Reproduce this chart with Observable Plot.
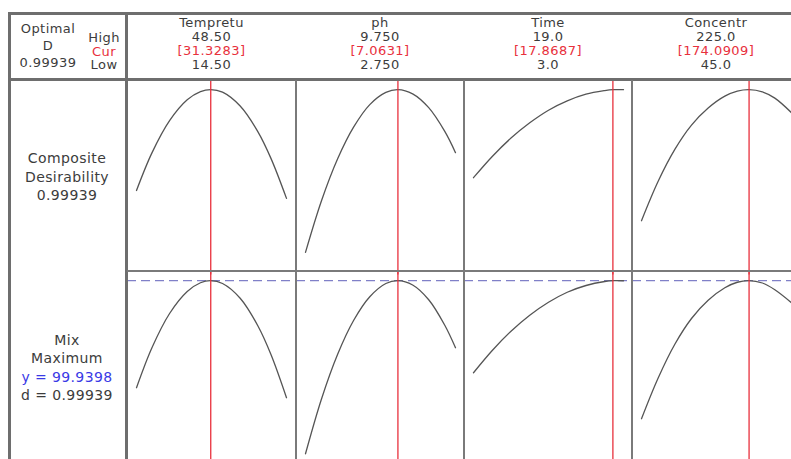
<!DOCTYPE html>
<html><head><meta charset="utf-8">
<script src="https://cdn.jsdelivr.net/npm/d3@7"></script>
<script src="https://cdn.jsdelivr.net/npm/@observablehq/plot@0.6"></script>
<style>
html,body{margin:0;padding:0;background:#fff;}
#wrap{position:relative;width:791px;height:459px;overflow:hidden;background:#fff;font-family:"DejaVu Sans",Verdana,sans-serif;color:#3c3c3c;}
.ln{position:absolute;background:#6e6e6e;z-index:5;}
.t{position:absolute;white-space:nowrap;transform:translate(-50%,-50%);font-size:13px;line-height:13px;letter-spacing:0.45px;z-index:6;}
.r{font-size:14px;line-height:15px;letter-spacing:0.4px;}
.panel{position:absolute;z-index:2;overflow:visible;}
.panel svg{max-width:none !important;display:block;}
</style></head>
<body><div id="wrap"></div>
<script>
// ---- data ----
const factors = ["Tempretu", "ph", "Time", "Concentr"];
const highLabels = ["48.50", "9.750", "19.0", "225.0"];
const curLabels = ["[31.3283]", "[7.0631]", "[17.8687]", "[174.0909]"];
const lowLabels = ["14.50", "2.750", "3.0", "45.0"];
const lowVals = [14.5, 2.75, 3, 45];
const highVals = [48.5, 9.75, 19, 225];
const curVals = [31.3283, 7.0631, 17.8687, 174.0909];

const tempX = [14.5, 18, 22, 26, 29, 31.3283, 34, 38, 42, 45, 48.5];
const tempD = [0.439, 0.648, 0.827, 0.943, 0.988, 0.9994, 0.985, 0.908, 0.766, 0.616, 0.395];
const tempY = [57.1, 73.1, 86.8, 95.6, 99.1, 99.94, 98.8, 92.9, 81.9, 70.3, 53.1];

const phX = [2.75, 3.5, 4.25, 5, 5.75, 6.5, 7.0631, 7.75, 8.5, 9.25, 9.75];
const phD = [0.095, 0.383, 0.615, 0.792, 0.916, 0.984, 0.9994, 0.976, 0.899, 0.767, 0.649];
const phY = [30.7, 52.7, 70.5, 84.1, 93.5, 98.8, 99.94, 98.2, 92.3, 82.1, 73.1];

const timeX = [3, 5, 7, 9, 11, 13, 15, 17, 17.8687, 19];
const timeD = [0.51, 0.628, 0.73, 0.815, 0.885, 0.937, 0.974, 0.994, 0.9994, 0.999];
const timeY = [63.1, 72.0, 79.7, 86.1, 91.3, 95.3, 98.0, 99.6, 99.94, 99.9];

const concX = [45, 65, 85, 105, 125, 145, 160, 174.0909, 190, 205, 225];
const concD = [0.271, 0.49, 0.667, 0.802, 0.897, 0.963, 0.991, 0.9994, 0.987, 0.952, 0.871];
const concY = [44.7, 61.0, 74.5, 84.8, 92.1, 97.1, 99.3, 99.94, 99.0, 96.3, 91.1];

const optimalD = "0.99939";
const compositeLabel = ["Composite", "Desirability", "0.99939"];
const responseLabel = ["Mix", "Maximum", "y = 99.9398", "d = 0.99939"];
const responseY = 99.9398;

// ---- layout ----
const wrap = document.getElementById("wrap");
const RED = "#e8303c", GRAY = "#555", BLUE = "#8080c8";
const xs = [127, 296, 464, 632, 800];
const topRow = [80, 271], botRow = [271, 475];

function line(x, y, w, h, c) {
  const d = document.createElement("div"); d.className = "ln";
  Object.assign(d.style, {left: x + "px", top: y + "px", width: w + "px", height: h + "px"});
  if (c) d.style.background = c;
  wrap.appendChild(d);
}
function text(s, cx, cy, color, cls) {
  const d = document.createElement("div"); d.className = "t" + (cls ? " " + cls : ""); d.textContent = s;
  d.style.left = cx + "px"; d.style.top = cy + "px";
  if (color) d.style.color = color;
  wrap.appendChild(d);
}

const xsData = [tempX, phX, timeX, concX];
const dData = [tempD, phD, timeD, concD];
const yData = [tempY, phY, timeY, concY];

for (let i = 0; i < 4; i++) {
  const w = xs[i + 1] - xs[i];
  const dRows = xsData[i].map((x, j) => ({x, v: dData[i][j]}));
  const yRows = xsData[i].map((x, j) => ({x, v: yData[i][j]}));
  const xOpt = {domain: [lowVals[i], highVals[i]], range: [9, 159], axis: null};
  const top = Plot.plot({
    width: w, height: topRow[1] - topRow[0], margin: 0,
    x: xOpt,
    y: {domain: [0, 1.05], range: [189, 0], axis: null},
    style: {background: "transparent", overflow: "visible", maxWidth: "none"},
    marks: [
      Plot.line(dRows, {x: "x", y: "v", stroke: GRAY, strokeWidth: 1.3, curve: "catmull-rom"}),
      Plot.ruleX([curVals[i]], {y1: -0.03, y2: 1.06, stroke: RED, strokeWidth: 1.3})
    ]
  });
  const bot = Plot.plot({
    width: w, height: botRow[1] - botRow[0], margin: 0,
    x: xOpt,
    y: {domain: [25, 103.6], range: [196.5, 0], axis: null},
    style: {background: "transparent", overflow: "visible", maxWidth: "none"},
    marks: [
      Plot.ruleY([responseY], {stroke: BLUE, strokeWidth: 1.3, strokeDasharray: "9,5"}),
      Plot.line(yRows, {x: "x", y: "v", stroke: GRAY, strokeWidth: 1.3, curve: "catmull-rom"}),
      Plot.ruleX([curVals[i]], {stroke: RED, strokeWidth: 1.3})
    ]
  });
  [[top, topRow[0], topRow[1] - topRow[0]], [bot, botRow[0], botRow[1] - botRow[0]]].forEach(([svg, y, h]) => {
    const d = document.createElement("div"); d.className = "panel";
    d.style.left = xs[i] + "px"; d.style.top = y + "px";
    d.style.width = w + "px"; d.style.height = h + "px";
    d.appendChild(svg); wrap.appendChild(d);
  });
  const cx = (xs[i] + xs[i + 1]) / 2;
  text(factors[i], cx, 22);
  text(highLabels[i], cx, 36);
  text(curLabels[i], cx, 50, RED);
  text(lowLabels[i], cx, 64);
}

// frame lines
line(8, 12, 800, 3);
line(8, 12, 3, 460);
line(8, 78, 800, 3);
line(125, 12, 3, 460);
for (let i = 1; i < 4; i++) line(xs[i] - 1, 80, 2, 400, "#7a7a7a");
line(127, 270, 680, 2, "#7a7a7a");

// left header
text("Optimal", 48, 28);
text("D", 48, 45);
text(optimalD, 48, 62);
text("High", 104, 37);
text("Cur", 104, 50.5, RED);
text("Low", 104, 64);

// row labels
compositeLabel.forEach((s, k) => text(s, 67, 158 + k * 18.5, null, "r"));
responseLabel.forEach((s, k) => text(s, 67, 340 + k * 18.3, k === 2 ? "#3a3ae6" : null, "r"));
</script></body></html>
